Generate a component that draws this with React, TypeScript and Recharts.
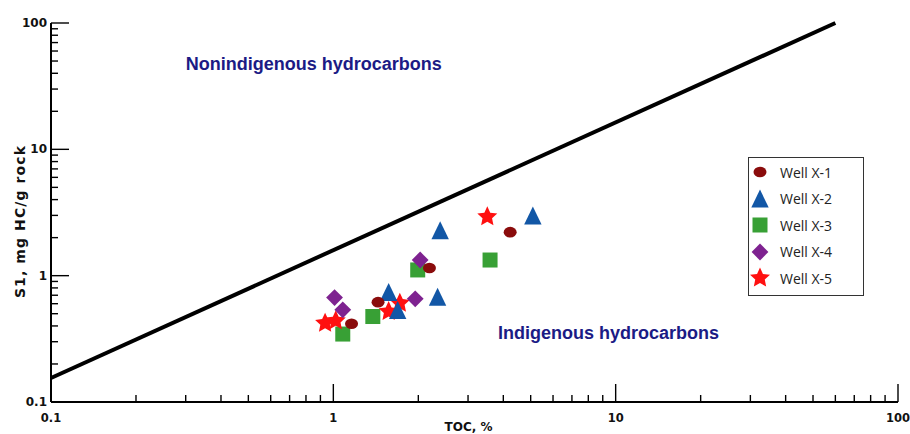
import React from 'react';
import { ScatterChart, Scatter, XAxis, YAxis, ReferenceLine, ReferenceDot, Legend } from 'recharts';

// TOC (%) vs S1 (mg HC/g rock) for each well
const WELL_X1 = [
  { toc: 1.16, s1: 0.416 },
  { toc: 1.44, s1: 0.617 },
  { toc: 2.19, s1: 1.15 },
  { toc: 4.23, s1: 2.21 },
];
const WELL_X2 = [
  { toc: 1.57, s1: 0.735 },
  { toc: 1.69, s1: 0.53 },
  { toc: 2.34, s1: 0.676 },
  { toc: 2.39, s1: 2.27 },
  { toc: 5.09, s1: 2.97 },
];
const WELL_X3 = [
  { toc: 1.08, s1: 0.345 },
  { toc: 1.38, s1: 0.475 },
  { toc: 1.99, s1: 1.11 },
  { toc: 3.59, s1: 1.33 },
];
const WELL_X4 = [
  { toc: 1.01, s1: 0.671 },
  { toc: 1.08, s1: 0.537 },
  { toc: 1.95, s1: 0.656 },
  { toc: 2.03, s1: 1.33 },
];
const WELL_X5 = [
  { toc: 0.935, s1: 0.421 },
  { toc: 1.02, s1: 0.439 },
  { toc: 1.57, s1: 0.52 },
  { toc: 1.72, s1: 0.606 },
  { toc: 3.51, s1: 2.93 },
];

// boundary between indigenous and migrated hydrocarbons
const BOUNDARY = [
  { x: 0.1, y: 0.155 },
  { x: 60, y: 100 },
];

const MAJOR_TICKS = [0.1, 1, 10, 100];
const MINOR_TICKS = [
  0.2, 0.3, 0.4, 0.5, 0.6, 0.7, 0.8, 0.9,
  2, 3, 4, 5, 6, 7, 8, 9,
  20, 30, 40, 50, 60, 70, 80, 90,
];
const ALL_TICKS = [...MAJOR_TICKS, ...MINOR_TICKS].sort((a, b) => a - b);

const LABEL_NONINDIGENOUS = { toc: 0.3, s1: 42.5, text: 'Nonindigenous hydrocarbons' };
const LABEL_INDIGENOUS = { toc: 3.83, s1: 0.313, text: 'Indigenous hydrocarbons' };

const AXIS_FONT = '"DejaVu Sans", Verdana, sans-serif';
const NOTE_COLOR = '#1b1b85';
const MAJOR_LEN = 18;
const MINOR_LEN = 7;

const isMajor = (v: number) => MAJOR_TICKS.includes(v);

// marker shapes
const circleShape = (color: string) => (p: any) => (
  <ellipse cx={p.cx} cy={p.cy} rx={6.5} ry={5.3} fill={color} />
);
const triangleShape = (color: string) => (p: any) => (
  <polygon
    points={`${p.cx},${p.cy - 9.5} ${p.cx + 8.7},${p.cy + 8.5} ${p.cx - 8.7},${p.cy + 8.5}`}
    fill={color}
  />
);
const squareShape = (color: string) => (p: any) => (
  <rect x={p.cx - 7.5} y={p.cy - 7.5} width={15} height={15} fill={color} />
);
const diamondShape = (color: string) => (p: any) => (
  <polygon
    points={`${p.cx},${p.cy - 8.4} ${p.cx + 8.4},${p.cy} ${p.cx},${p.cy + 8.4} ${p.cx - 8.4},${p.cy}`}
    fill={color}
  />
);
const starShape = (color: string) => (p: any) => {
  const pts: string[] = [];
  for (let i = 0; i < 10; i++) {
    const r = i % 2 === 0 ? 10.5 : 5;
    const a = (-90 + i * 36) * (Math.PI / 180);
    pts.push(`${p.cx + r * Math.cos(a)},${p.cy + r * Math.sin(a)}`);
  }
  return <polygon points={pts.join(' ')} fill={color} />;
};

const SERIES = [
  { name: 'Well X-1', data: WELL_X1, color: '#8a0c0c', shape: circleShape },
  { name: 'Well X-2', data: WELL_X2, color: '#1257a6', shape: triangleShape },
  { name: 'Well X-3', data: WELL_X3, color: '#38a035', shape: squareShape },
  { name: 'Well X-4', data: WELL_X4, color: '#7e2290', shape: diamondShape },
  { name: 'Well X-5', data: WELL_X5, color: '#ff1010', shape: starShape },
];
// drawing order: squares at the bottom, circles on top
const DRAW_ORDER = ['Well X-3', 'Well X-5', 'Well X-2', 'Well X-4', 'Well X-1'];

// ticks point inward on all four sides
const BottomTick = ({ x, y, payload }: any) => {
  const major = isMajor(payload.value);
  return (
    <g>
      <line x1={x} y1={y} x2={x} y2={y - (major ? MAJOR_LEN : MINOR_LEN)} stroke="#000" strokeWidth={1.4} />
      {major && (
        <text x={x} y={y + 16} textAnchor="middle" dominantBaseline="central"
          fontFamily={AXIS_FONT} fontWeight="bold" fontSize={11.5} fill="#111">
          {payload.value}
        </text>
      )}
    </g>
  );
};
const TopTick = ({ x, y, payload }: any) => {
  const major = isMajor(payload.value);
  return <line x1={x} y1={y} x2={x} y2={y + (major ? MAJOR_LEN : MINOR_LEN)} stroke="#000" strokeWidth={1.4} />;
};
const LeftTick = ({ x, y, payload }: any) => {
  const major = isMajor(payload.value);
  return (
    <g>
      <line x1={x} y1={y} x2={x + (major ? MAJOR_LEN : MINOR_LEN)} y2={y} stroke="#000" strokeWidth={1.4} />
      {major && (
        <text x={x - 4} y={y} textAnchor="end" dominantBaseline="central"
          fontFamily={AXIS_FONT} fontWeight="bold" fontSize={12} fill="#111">
          {payload.value}
        </text>
      )}
    </g>
  );
};
const RightTick = ({ x, y, payload }: any) => {
  const major = isMajor(payload.value);
  return <line x1={x} y1={y} x2={x - (major ? MAJOR_LEN : MINOR_LEN)} y2={y} stroke="#000" strokeWidth={1.4} />;
};

const noteShape = (text: string) => (p: any) => (
  <text x={p.cx} y={p.cy} fill={NOTE_COLOR} fontFamily='"Liberation Sans", Arial, sans-serif'
    fontWeight="bold" fontSize={18}>
    {text}
  </text>
);

const LegendBox = () => (
  <div
    style={{
      width: 116, height: 139, boxSizing: 'border-box', border: '1.5px solid #333',
      background: '#fff', paddingTop: 1,
    }}
  >
    {SERIES.map((s) => (
      <div key={s.name} style={{ display: 'flex', alignItems: 'center', height: 26.5 }}>
        <svg width={28} height={26} style={{ flexShrink: 0 }}>
          {s.shape(s.color)({ cx: 11, cy: 13 })}
        </svg>
        <span style={{ fontFamily: '"Open Sans", sans-serif', fontSize: 14, color: '#222', marginLeft: 3 }}>
          {s.name}
        </span>
      </div>
    ))}
  </div>
);

const axisLine = { stroke: '#000', strokeWidth: 2 };

export default function App() {
  return (
    <div style={{ position: 'absolute', left: 0, top: 0, width: 910, height: 434, background: '#fff' }}>
      <ScatterChart width={910} height={434} margin={{ top: 23, right: 12, bottom: 0, left: 0 }}>
        <XAxis
          type="number" dataKey="toc" scale="log" domain={[0.1, 100]} allowDataOverflow
          ticks={ALL_TICKS} interval={0} tickSize={0} tickMargin={0} tick={<BottomTick />}
          height={32} axisLine={axisLine}
          label={{
            content: ({ viewBox }: any) => (
              <text x={viewBox.x + viewBox.width / 2 - 6} y={viewBox.y + 29} textAnchor="middle"
                fontFamily={AXIS_FONT} fontWeight="bold" fontSize={12} fill="#111">
                TOC, %
              </text>
            ),
          }}
        />
        <XAxis
          xAxisId="top" orientation="top" type="number" scale="log" domain={[0.1, 100]} allowDataOverflow
          ticks={ALL_TICKS} interval={0} tickSize={0} tickMargin={0} tick={<TopTick />}
          height={0} axisLine={axisLine}
        />
        <YAxis
          type="number" dataKey="s1" scale="log" domain={[0.1, 100]} allowDataOverflow
          ticks={ALL_TICKS} interval={0} tickSize={0} tickMargin={0} tick={<LeftTick />}
          width={51} axisLine={axisLine}
          label={{
            content: ({ viewBox }: any) => {
              const cx = viewBox.x + 25;
              const cy = viewBox.y + viewBox.height / 2 + 9;
              return (
                <text x={cx} y={cy} transform={`rotate(-90 ${cx} ${cy})`} textAnchor="middle"
                  fontFamily={AXIS_FONT} fontWeight="bold" fontSize={14} letterSpacing={1.1} fill="#111">
                  S1, mg HC/g rock
                </text>
              );
            },
          }}
        />
        <YAxis
          yAxisId="right" orientation="right" type="number" scale="log" domain={[0.1, 100]} allowDataOverflow
          ticks={ALL_TICKS} interval={0} tickSize={0} tickMargin={0} tick={<RightTick />}
          width={0} axisLine={axisLine}
        />

        <ReferenceLine segment={BOUNDARY} stroke="#000" strokeWidth={4} />

        <ReferenceDot x={LABEL_NONINDIGENOUS.toc} y={LABEL_NONINDIGENOUS.s1} r={0}
          shape={noteShape(LABEL_NONINDIGENOUS.text)} />
        <ReferenceDot x={LABEL_INDIGENOUS.toc} y={LABEL_INDIGENOUS.s1} r={0}
          shape={noteShape(LABEL_INDIGENOUS.text)} />

        {DRAW_ORDER.map((n) => {
          const s = SERIES.find((x) => x.name === n)!;
          return (
            <Scatter key={s.name} name={s.name} data={s.data} fill={s.color}
              shape={s.shape(s.color)} isAnimationActive={false} />
          );
        })}

        <Legend
          layout="vertical" align="center" verticalAlign="middle"
          wrapperStyle={{ left: 748, top: 157, width: 116, height: 139 }}
          content={() => <LegendBox />}
        />
      </ScatterChart>
    </div>
  );
}
